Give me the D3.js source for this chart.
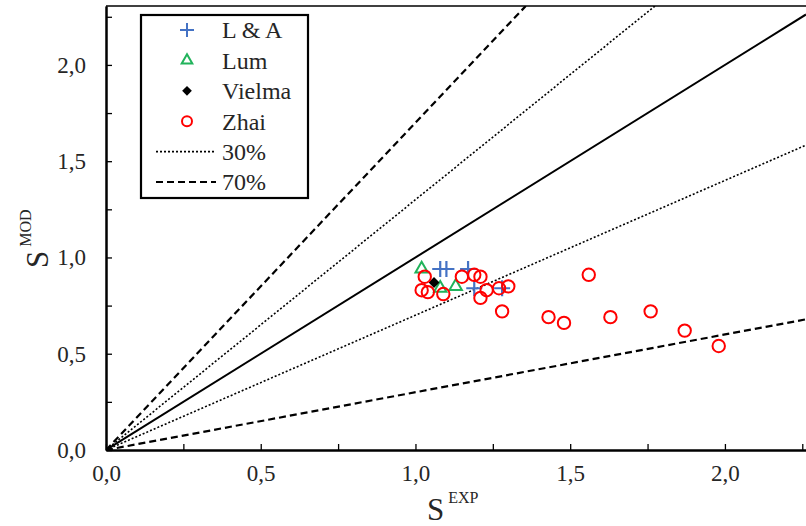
<!DOCTYPE html>
<html>
<head>
<meta charset="utf-8">
<script src="https://cdn.jsdelivr.net/npm/d3@7"></script>
<style>
  html, body { margin: 0; padding: 0; background: #fff; }
  svg { display: block; }
</style>
</head>
<body>
<svg id="chart" width="806" height="526"></svg>
<script>
// Measured vs. modelled values (S_EXP, S_MOD) per data source
const laX   = [1.08, 1.10, 1.17, 1.19, 1.28];
const laY   = [0.94, 0.94, 0.94, 0.84, 0.84];
const lumX  = [1.02, 1.13, 1.08];
const lumY  = [0.94, 0.85, 0.84];
const vielmaX = [1.06];
const vielmaY = [0.87];
const zhaiX = [1.03, 1.02, 1.04, 1.09, 1.15, 1.19, 1.21, 1.23, 1.21, 1.27, 1.30, 1.28,
               1.43, 1.48, 1.56, 1.63, 1.76, 1.87, 1.98];
const zhaiY = [0.90, 0.83, 0.82, 0.81, 0.90, 0.91, 0.90, 0.83, 0.79, 0.84, 0.85, 0.72,
               0.69, 0.66, 0.91, 0.69, 0.72, 0.62, 0.54];

// Reference lines y = k·x : perfect agreement, ±30 % and ±70 %
const lineSlopes = [1.0, 1.3, 0.7, 1.7, 0.3];
const lineKinds  = ["solid", "dot", "dot", "dash", "dash"];

const majorTicks = [0, 0.5, 1.0, 1.5, 2.0];
const minorTicks = [0.25, 0.75, 1.25, 1.75, 2.25];
const xMax = 2.262, yMax = 2.306;

const FONT = "'Liberation Serif', 'Times New Roman', 'DejaVu Serif', serif";
const INK = "#262626";

const svg = d3.select("#chart");
const plotLeft = 106, plotRight = 806, plotTop = 6, plotBottom = 450;

const x = d3.scaleLinear().domain([0, xMax]).range([plotLeft, plotRight]);
const y = d3.scaleLinear().domain([0, yMax]).range([plotBottom, plotTop]);

const loc = d3.formatLocale({decimal: ",", thousands: ".", grouping: [3], currency: ["", ""]});
const fmt = loc.format(".1f");

// clip region for the plot
svg.append("defs").append("clipPath").attr("id", "plotClip")
  .append("rect").attr("x", plotLeft).attr("y", plotTop)
  .attr("width", plotRight - plotLeft).attr("height", plotBottom - plotTop);

// reference lines
const dashFor = {solid: null, dot: "2,2", dash: "7,4"};
const widthFor = {solid: 2, dot: 1.6, dash: 2.2};
svg.append("g").attr("clip-path", "url(#plotClip)")
  .selectAll("line").data(lineSlopes.map((k, i) => ({k, kind: lineKinds[i]})))
  .join("line")
  .attr("x1", x(0)).attr("y1", y(0))
  .attr("x2", d => x(Math.min(xMax, yMax / d.k)))
  .attr("y2", d => y(Math.min(xMax, yMax / d.k) * d.k))
  .attr("stroke", "#000")
  .attr("stroke-width", d => widthFor[d.kind])
  .attr("stroke-dasharray", d => dashFor[d.kind]);

// axes with inward ticks
const xAxis = svg.append("g").attr("transform", `translate(0,${plotBottom})`)
  .call(d3.axisBottom(x).tickValues(majorTicks).tickFormat(fmt).tickSizeInner(-6).tickSizeOuter(0).tickPadding(15));
const xMinor = svg.append("g").attr("transform", `translate(0,${plotBottom})`)
  .call(d3.axisBottom(x).tickValues(minorTicks).tickFormat("").tickSizeInner(-6).tickSizeOuter(0));
const yAxis = svg.append("g").attr("transform", `translate(${plotLeft},0)`)
  .call(d3.axisLeft(y).tickValues(majorTicks).tickFormat(fmt).tickSizeInner(-6).tickSizeOuter(0).tickPadding(20));
const yMinor = svg.append("g").attr("transform", `translate(${plotLeft},0)`)
  .call(d3.axisLeft(y).tickValues(minorTicks.filter(v => v <= yMax)).tickFormat("").tickSizeInner(-6).tickSizeOuter(0));

[xAxis, xMinor, yAxis, yMinor].forEach(g => {
  g.attr("font-family", null).attr("font-size", null);
  g.selectAll(".domain").attr("stroke", "#000").attr("stroke-width", 2);
  g.selectAll(".tick line").attr("stroke", "#000").attr("stroke-width", 1.3);
  g.selectAll("text").style("font-family", FONT).style("font-size", "23px").attr("fill", INK);
});

// top frame
svg.append("line").attr("x1", plotLeft).attr("x2", plotRight).attr("y1", plotTop).attr("y2", plotTop)
  .attr("stroke", "#000").attr("stroke-width", 1.6);

// axis titles
const xt = svg.append("text").attr("x", 427).attr("y", 520)
  .style("font-family", FONT).style("font-size", "31px").attr("fill", INK);
xt.append("tspan").text("S");
xt.append("tspan").style("font-size", "16px").attr("dx", 4).attr("dy", -17).text("EXP");

const yt = svg.append("text").attr("transform", "translate(48,268) rotate(-90)")
  .style("font-family", FONT).style("font-size", "31px").attr("fill", INK);
yt.append("tspan").text("S");
yt.append("tspan").style("font-size", "16px").attr("dx", 4).attr("dy", -17).text("MOD");

// marker shapes
const blue = "#4472C4", green = "#21B35B", red = "#FF0000";
const crossPath = "M-8,0H8M0,-8V8";
const triPath = d3.symbol(d3.symbolTriangle2, 110)();
const diaPath = d3.symbol(d3.symbolDiamond2, 75)();

const plot = svg.append("g").attr("clip-path", "url(#plotClip)");

plot.append("g").selectAll("path").data(laX.map((v, i) => [v, laY[i]]))
  .join("path").attr("d", crossPath)
  .attr("transform", d => `translate(${x(d[0])},${y(d[1])})`)
  .attr("stroke", blue).attr("stroke-width", 2.2).attr("fill", "none");

plot.append("g").selectAll("path").data(lumX.map((v, i) => [v, lumY[i]]))
  .join("path").attr("d", triPath)
  .attr("transform", d => `translate(${x(d[0])},${y(d[1])})`)
  .attr("stroke", green).attr("stroke-width", 2).attr("fill", "none");

plot.append("g").selectAll("path").data(vielmaX.map((v, i) => [v, vielmaY[i]]))
  .join("path").attr("d", diaPath)
  .attr("transform", d => `translate(${x(d[0])},${y(d[1])})`)
  .attr("fill", "#000");

plot.append("g").selectAll("circle").data(zhaiX.map((v, i) => [v, zhaiY[i]]))
  .join("circle")
  .attr("cx", d => x(d[0])).attr("cy", d => y(d[1])).attr("r", 6.2)
  .attr("stroke", red).attr("stroke-width", 2).attr("fill", "none");

// legend
const lg = svg.append("g");
lg.append("rect").attr("x", 141).attr("y", 15).attr("width", 167).attr("height", 183)
  .attr("fill", "#fff").attr("stroke", "#000").attr("stroke-width", 2.2);

const legendItems = [
  {label: "L & A", type: "cross"},
  {label: "Lum", type: "tri"},
  {label: "Vielma", type: "dia"},
  {label: "Zhai", type: "circle"},
  {label: "30%", type: "dot"},
  {label: "70%", type: "dash"}
];
const rowY = d3.scaleLinear().domain([0, 5]).range([30, 182]);
legendItems.forEach((it, i) => {
  const cy = rowY(i), cx = 187;
  if (it.type === "cross") {
    lg.append("path").attr("d", "M-7,0H7M0,-7V7").attr("transform", `translate(${cx},${cy})`)
      .attr("stroke", blue).attr("stroke-width", 2).attr("fill", "none");
  } else if (it.type === "tri") {
    lg.append("path").attr("d", d3.symbol(d3.symbolTriangle2, 80)()).attr("transform", `translate(${cx},${cy})`)
      .attr("stroke", green).attr("stroke-width", 2).attr("fill", "none");
  } else if (it.type === "dia") {
    lg.append("path").attr("d", d3.symbol(d3.symbolDiamond2, 60)()).attr("transform", `translate(${cx},${cy})`)
      .attr("fill", "#000");
  } else if (it.type === "circle") {
    lg.append("circle").attr("cx", cx).attr("cy", cy).attr("r", 5)
      .attr("stroke", red).attr("stroke-width", 2).attr("fill", "none");
  } else {
    lg.append("line").attr("x1", 156).attr("x2", 216).attr("y1", cy).attr("y2", cy)
      .attr("stroke", "#000").attr("stroke-width", widthFor[it.type])
      .attr("stroke-dasharray", dashFor[it.type]);
  }
  lg.append("text").attr("x", 222).attr("y", cy).attr("dy", "0.35em")
    .style("font-family", FONT).style("font-size", "24px").attr("fill", INK).text(it.label);
});
</script>
</body>
</html>
